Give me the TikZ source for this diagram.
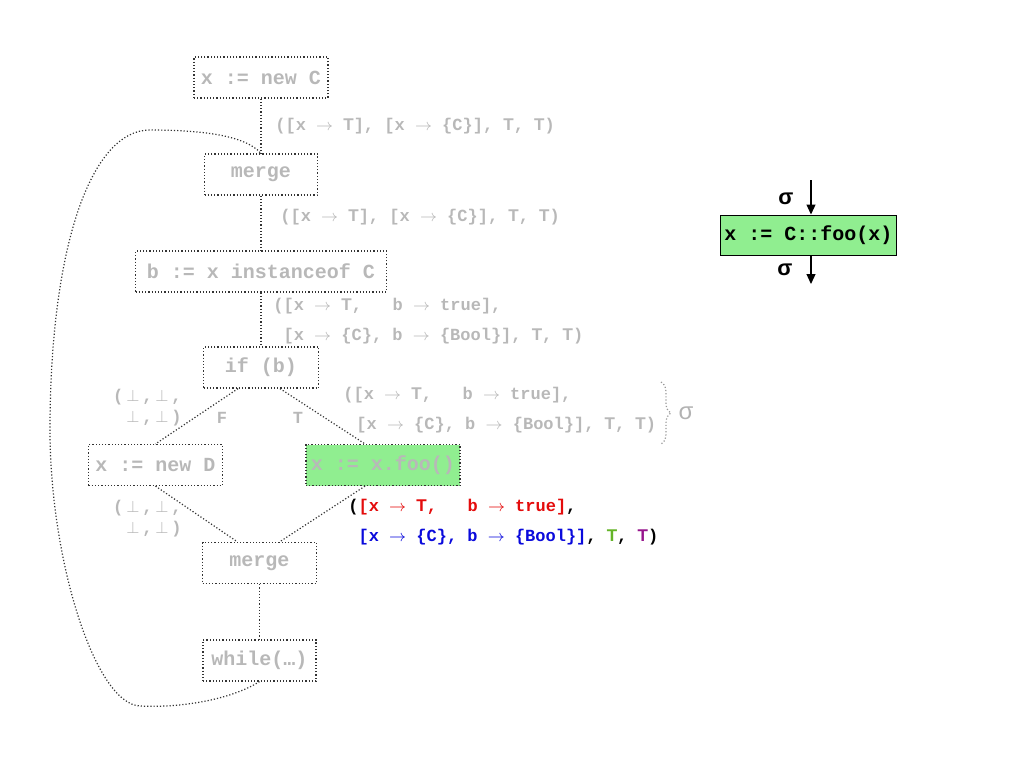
\documentclass[tikz,border=0pt]{standalone}
\usepackage{fontspec}
\setmainfont{Liberation Sans}
\setmonofont{Liberation Mono}
\usepackage{xcolor}
\usetikzlibrary{arrows.meta, decorations.pathreplacing}

\definecolor{boxgreen}{RGB}{144,238,144}
\definecolor{tred}{RGB}{228,12,12}
\definecolor{tblue}{RGB}{10,10,220}
\definecolor{tgreen}{RGB}{100,180,40}
\definecolor{tpurple}{RGB}{150,20,140}
\newcommand{\maps}{$\rightarrow$}
\newcommand{\tp}{\textnormal{\bfseries T}}

\begin{document}
\begin{tikzpicture}[x=0.5pt, y=-0.5pt,
    box/.style={draw=black!80, densely dotted, line width=0.6pt, minimum height=20.5pt,
                inner sep=2pt, font=\ttfamily\bfseries\fontsize{10}{12}\selectfont,
                text=black!28},
    lbl/.style={anchor=west, align=left, inner sep=0pt,
                font=\ttfamily\bfseries\fontsize{8.5}{15}\selectfont, text=black!28},
    bot/.style={anchor=east, align=right, inner sep=0pt,
                font=\ttfamily\bfseries\fontsize{8.5}{10.5}\selectfont, text=black!28},
    flow/.style={draw=black!80, densely dotted, line width=0.6pt},
    sig/.style={font=\bfseries\fontsize{11}{13}\selectfont},
    pass/.style={-{Triangle[length=5pt,width=4.5pt]}, line width=0.6pt}
  ]
    \useasboundingbox (0,0) rectangle (1024,768);

    % control flow graph, faded
    \node[box, minimum width=67pt] (newC) at (261,77.5) {x := new C};
    \node[box, minimum width=56.5pt] (merge1) at (261,174.5) {merge};
    \node[box, minimum width=125.5pt] (instof) at (261,271.5) {b := x instanceof C};
    \node[box, minimum width=57.5pt] (ifb) at (261,367.5) {if (b)};
    \node[box, minimum width=67pt] (newD) at (155.5,465) {x := new D};
    \node[box, minimum width=77pt, fill=boxgreen] (foo) at (383,465) {x := x.foo()};
    \node[box, minimum width=57pt] (merge2) at (259.5,563) {merge};
    \node[box, minimum width=56.5pt] (loop) at (259.5,660.5) {while(…)};

    \draw[flow] (newC) -- (merge1);
    \draw[flow] (merge1) -- (instof);
    \draw[flow] (instof) -- (ifb);
    \draw[flow] ([xshift=-11.5pt]ifb.south) -- (newD.north);
    \draw[flow] ([xshift=9.5pt]ifb.south) -- ([xshift=-9pt]foo.north);
    \draw[flow] (newD.south) -- ([xshift=-11pt]merge2.north);
    \draw[flow] ([xshift=-9pt]foo.south) -- ([xshift=10pt]merge2.north);
    \draw[flow] (merge2) -- (loop);
    \draw[flow] (loop.south) .. controls (230,700) and (180,708) .. (140,706)
      .. controls (95,704) and (50,560) .. (50,430)
      .. controls (50,250) and (90,130) .. (150,130)
      .. controls (200,130) and (245,135) .. (merge1.north);

    % facts on the edges
    \node[lbl] (fact1) at (275,126) {([x \maps{} \tp], [x \maps{} \{C\}], \tp, \tp)};
    \node[lbl] (fact2) at (280,217) {([x \maps{} \tp], [x \maps{} \{C\}], \tp, \tp)};
    \node[lbl] (fact3) at (273,321) {([x \maps{} \tp,\ \ \ b \maps{} true],\\
      \phantom{(}[x \maps{} \{C\}, b \maps{} \{Bool\}], \tp, \tp)};
    \node[lbl] (fact4) at (343,410) {([x \maps{} \tp,\ \ \ b \maps{} true],\\
      \phantom{(}\,[x \maps{} \{C\}, b \maps{} \{Bool\}], \tp, \tp)};
    \node[bot] (botF) at (182,408) {(\,$\bot$\,,\,$\bot$\,,\\ $\bot$\,,\,$\bot$\,)};
    \node[bot] (botD) at (182,519) {(\,$\bot$\,,\,$\bot$\,,\\ $\bot$\,,\,$\bot$\,)};
    \node[lbl, anchor=center] (lblF) at (222,418) {F};
    \node[lbl, anchor=center] (lblT) at (298,418) {T};

    \coordinate (brtop) at (661,382);
    \coordinate (brbot) at (661,444);
    \draw[flow, draw=black!40, decorate, decoration={brace, amplitude=5pt}] (brtop) -- (brbot);
    \node[text=black!30, font=\fontsize{12}{14}\selectfont] (sigma) at (686,413) {σ};

    % result of the call, in colour
    \node[lbl, text=black] (fact5) at (348,522)
      {(\textcolor{tred}{[x \maps{} \tp,\ \ \ b \maps{} true]},\\
       \phantom{(}\textcolor{tblue}{[x \maps{} \{C\}, b \maps{} \{Bool\}]},
       \textcolor{tgreen}{\tp}, \textcolor{tpurple}{\tp})};

    % summary box
    \node[draw, fill=boxgreen, line width=0.5pt, minimum width=86.5pt, minimum height=20pt,
          inner sep=2pt, font=\ttfamily\bfseries\fontsize{10}{12}\selectfont]
      (call) at (808.5,235) {x := C::foo(x)};
    \coordinate (sigin) at (811,180);
    \coordinate (sigout) at (811,284);
    \draw[pass] (sigin) -- (sigin |- call.north);
    \draw[pass] (sigout |- call.south) -- (sigout);
    \node[sig] (sigtop) at (786,199) {σ};
    \node[sig] (sigbot) at (785,270) {σ};
  \end{tikzpicture}
\end{document}
